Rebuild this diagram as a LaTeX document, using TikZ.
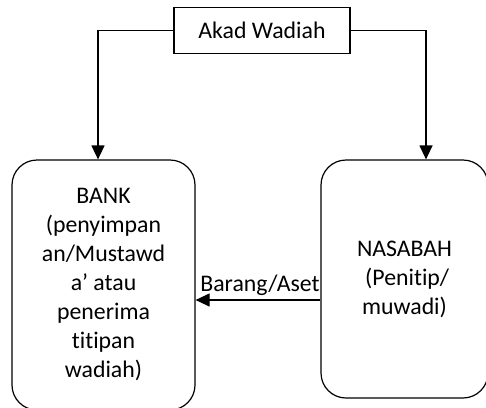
\documentclass[tikz,border=0pt]{standalone}
\usepackage{fontspec}
\setmainfont{Carlito}[Ligatures=NoCommon]
\usetikzlibrary{arrows.meta}
\begin{document}
\begin{tikzpicture}[x=1pt,y=-1pt,
  every node/.style={font=\fontsize{23.8}{29}\selectfont, inner sep=0pt, align=center},
  boxstyle/.style={draw, line width=1.2pt},
  party/.style={boxstyle, rounded corners=25pt},
  arr/.style={line width=1.2pt, -{Triangle[length=14pt,width=13pt]}}]
\useasboundingbox (0,0) rectangle (486,407);
\node[boxstyle, minimum width=176pt, minimum height=46.5pt] (akad) at (262,30.5) {Akad Wadiah};
\node[party, minimum width=183pt, minimum height=250pt] (bank) at (103.5,285)
  {BANK\\(penyimpan\\an/Mustawd\\a’ atau\\penerima\\titipan\\wadiah)};
\node[party, minimum width=167pt, minimum height=238pt] (nasabah) at (404.5,279)
  {NASABAH\\ \ (Penitip/\\muwadi)};
\draw[arr] (akad.west) -| ([xshift=-5.5pt]bank.north);
\draw[arr] (akad.east) -| ([xshift=21.5pt]nasabah.north);
\coordinate (src) at ([yshift=-21pt]nasabah.west);
\draw[arr] (src) -- (src -| bank.east);
\node[anchor=base] (lbl) at (260,291.5) {Barang/Aset};
\end{tikzpicture}
\end{document}
